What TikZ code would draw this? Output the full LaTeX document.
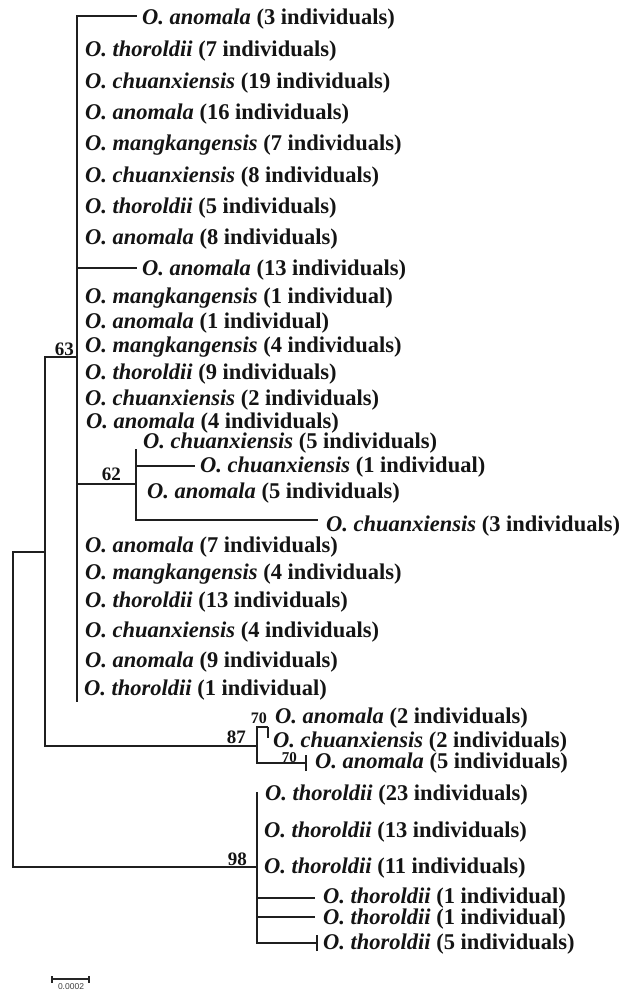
\documentclass[tikz,border=0pt]{standalone}
\usepackage{fontspec}
\setmainfont{Liberation Serif}
\newfontfamily\scalebarfont{Liberation Sans}
\newcommand\spn[1]{\textit{#1}}
\begin{document}
\begin{tikzpicture}[x=1pt,y=-1pt,
  br/.style={line width=2.5pt, draw=black!88},
  leaf/.style={anchor=base west, inner sep=0pt, text=black!92,
    font=\fontsize{22.5}{27}\selectfont\bfseries},
  supp/.style={anchor=base east, inner sep=0pt, text=black!92,
    font=\fontsize{19}{22}\selectfont\bfseries},
  suppsmall/.style={anchor=base east, inner sep=0pt, text=black!92,
    font=\fontsize{16}{19}\selectfont\bfseries}]
\useasboundingbox[fill=white] (0,0) rectangle (623,991);

% internal nodes
\coordinate (R) at (13,710);
\coordinate (B) at (45,552);
\coordinate (A) at (77,357);
\coordinate (Abot) at (77,702);
\coordinate (N62) at (136,484);
\coordinate (N62top) at (136,449);
\coordinate (N87) at (257,746);
\coordinate (N70) at (268,727);
\coordinate (N70bot) at (268,738);
\coordinate (N98) at (257,867);
\coordinate (N98top) at (257,792);

% branch tips
\coordinate (t1) at (137,16);
\coordinate (t9) at (137,268);
\coordinate (t17) at (195,466);
\coordinate (t19) at (318,520);
\coordinate (t28) at (306,763);
\coordinate (t32) at (315,898);
\coordinate (t33) at (315,917);
\coordinate (t34) at (317,943);

% branches
\draw[br] (R) |- (B);
\draw[br] (R) |- (N98);
\draw[br] (B) |- (A);
\draw[br] (B) |- (N87);
\draw[br] (A) |- (t1);
\draw[br] (A) |- (t9);
\draw[br] (A) |- (N62);
\draw[br] (A) -- (Abot);
\draw[br] (N62) |- (t17);
\draw[br] (N62) |- (t19);
\draw[br] (N62) -- (N62top);
\draw[br] (N87) |- (N70);
\draw[br] (N87) |- (t28);
\draw[br] (N70) -- (N70bot);
\draw[br] (N98) -- (N98top);
\draw[br] (N98) |- (t32);
\draw[br] (N98) |- (t33);
\draw[br] (N98) |- (t34);
% tip ticks
\draw[br] ([yshift=-8pt]t28) -- ([yshift=8pt]t28);
\draw[br] ([yshift=-8pt]t34) -- ([yshift=8pt]t34);

% leaf labels
\node[leaf] (l1) at (142,24) {\spn{O. anomala} (3 individuals)};
\node[leaf] (l2) at (85,56) {\spn{O. thoroldii} (7 individuals)};
\node[leaf] (l3) at (85,88) {\spn{O. chuanxiensis} (19 individuals)};
\node[leaf] (l4) at (85,119) {\spn{O. anomala} (16 individuals)};
\node[leaf] (l5) at (85,150) {\spn{O. mangkangensis} (7 individuals)};
\node[leaf] (l6) at (85,182) {\spn{O. chuanxiensis} (8 individuals)};
\node[leaf] (l7) at (85,213) {\spn{O. thoroldii} (5 individuals)};
\node[leaf] (l8) at (85,244) {\spn{O. anomala} (8 individuals)};
\node[leaf] (l9) at (142,275) {\spn{O. anomala} (13 individuals)};
\node[leaf] (l10) at (85,303) {\spn{O. mangkangensis} (1 individual)};
\node[leaf] (l11) at (85,328) {\spn{O. anomala} (1 individual)};
\node[leaf] (l12) at (85,352) {\spn{O. mangkangensis} (4 individuals)};
\node[leaf] (l13) at (85,379) {\spn{O. thoroldii} (9 individuals)};
\node[leaf] (l14) at (85,405) {\spn{O. chuanxiensis} (2 individuals)};
\node[leaf] (l15) at (86,428) {\spn{O. anomala} (4 individuals)};
\node[leaf] (l16) at (143,448) {\spn{O. chuanxiensis} (5 individuals)};
\node[leaf] (l17) at (200,472) {\spn{O. chuanxiensis} (1 individual)};
\node[leaf] (l18) at (147,498) {\spn{O. anomala} (5 individuals)};
\node[leaf] (l19) at (326,531) {\spn{O. chuanxiensis} (3 individuals)};
\node[leaf] (l20) at (85,552) {\spn{O. anomala} (7 individuals)};
\node[leaf] (l21) at (85,579) {\spn{O. mangkangensis} (4 individuals)};
\node[leaf] (l22) at (85,607) {\spn{O. thoroldii} (13 individuals)};
\node[leaf] (l23) at (85,637) {\spn{O. chuanxiensis} (4 individuals)};
\node[leaf] (l24) at (85,667) {\spn{O. anomala} (9 individuals)};
\node[leaf] (l25) at (84,695) {\spn{O. thoroldii} (1 individual)};
\node[leaf] (l26) at (275,723) {\spn{O. anomala} (2 individuals)};
\node[leaf] (l27) at (273,747) {\spn{O. chuanxiensis} (2 individuals)};
\node[leaf] (l28) at (315,768) {\spn{O. anomala} (5 individuals)};
\node[leaf] (l29) at (265,800) {\spn{O. thoroldii} (23 individuals)};
\node[leaf] (l30) at (264,837) {\spn{O. thoroldii} (13 individuals)};
\node[leaf] (l31) at (264,873) {\spn{O. thoroldii} (11 individuals)};
\node[leaf] (l32) at (323,903) {\spn{O. thoroldii} (1 individual)};
\node[leaf] (l33) at (323,924) {\spn{O. thoroldii} (1 individual)};
\node[leaf] (l34) at (323,949) {\spn{O. thoroldii} (5 individuals)};

% support values
\node[supp] (s63) at (74,355) {63};
\node[supp] (s62) at (121,480) {62};
\node[supp] (s87) at (246,743) {87};
\node[suppsmall] (s70a) at (267,723) {70};
\node[suppsmall, font=\fontsize{15}{18}\selectfont\bfseries] (s70b) at (297,762) {70};
\node[supp] (s98) at (247,865) {98};

% scale bar
\coordinate (sbL) at (52,979);
\coordinate (sbR) at (89,979);
\draw[line width=1.6pt, draw=black!85] (sbL) -- (sbR);
\draw[line width=1.6pt, draw=black!85] ([yshift=-3.5pt]sbL) -- ([yshift=3.5pt]sbL);
\draw[line width=1.6pt, draw=black!85] ([yshift=-3.5pt]sbR) -- ([yshift=3.5pt]sbR);
\node[inner sep=0pt, text=black!75, font=\scalebarfont\fontsize{8.5}{9}\selectfont] (sblabel) at (71,987) {0.0002};
\end{tikzpicture}
\end{document}
